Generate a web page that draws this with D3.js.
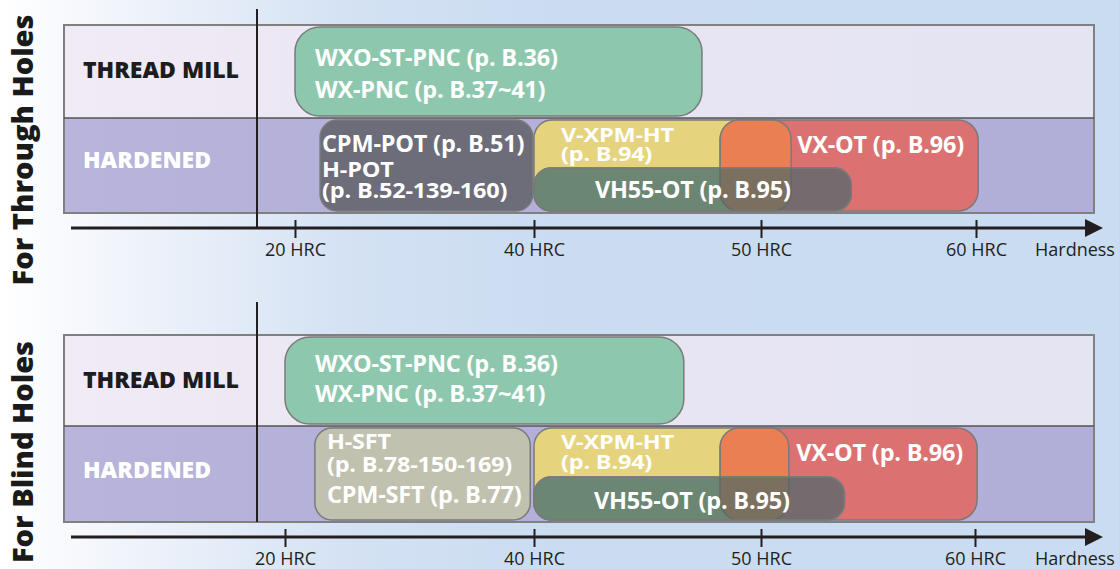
<!DOCTYPE html>
<html><head><meta charset="utf-8">
<script src="https://cdn.jsdelivr.net/npm/d3@7"></script>
<style>
html,body{margin:0;padding:0;background:#fff;}
svg{display:block;font-family:"Open Sans",sans-serif;}
</style>
</head><body>
<svg id="chart" width="1119" height="569"></svg>
<script>
// ---------------- DATA ----------------
const panelTitles = ["For Through Holes", "For Blind Holes"];
const materials = ["THREAD MILL", "HARDENED"];
const hardnessTicks = [20, 40, 50, 60];
const tickLabels = ["20 HRC", "40 HRC", "50 HRC", "60 HRC"];
const axisTitle = "Hardness";

// For Through Holes
const throughTools = ["WXO-ST-PNC", "CPM-POT", "V-XPM-HT", "VX-OT", "VH55-OT"];
const throughMaterial = ["THREAD MILL", "HARDENED", "HARDENED", "HARDENED", "HARDENED"];
const throughFrom = [20, 22.1, 40, 48.2, 40];
const throughTo = [47.4, 39.9, 51.4, 60.1, 54.2];
const throughLabels = [
  ["WXO-ST-PNC (p. B.36)", "WX-PNC (p. B.37~41)"],
  ["CPM-POT (p. B.51)", "H-POT", "(p. B.52-139-160)"],
  ["V-XPM-HT", "(p. B.94)"],
  ["VX-OT (p. B.96)"],
  ["VH55-OT (p. B.95)"]
];

// For Blind Holes
const blindTools = ["WXO-ST-PNC", "H-SFT", "V-XPM-HT", "VX-OT", "VH55-OT"];
const blindMaterial = ["THREAD MILL", "HARDENED", "HARDENED", "HARDENED", "HARDENED"];
const blindFrom = [20, 22.4, 40, 48.2, 40];
const blindTo = [46.6, 39.7, 51.3, 60.1, 53.9];
const blindLabels = [
  ["WXO-ST-PNC (p. B.36)", "WX-PNC (p. B.37~41)"],
  ["H-SFT", "(p. B.78-150-169)", "CPM-SFT (p. B.77)"],
  ["V-XPM-HT", "(p. B.94)"],
  ["VX-OT (p. B.96)"],
  ["VH55-OT (p. B.95)"]
];

// ---------------- STYLE / LAYOUT ----------------
const toolColor = {
  "WXO-ST-PNC": "#8DC8AE",
  "CPM-POT": "#6D6C79",
  "H-SFT": "#C0C1AE",
  "V-XPM-HT": "#E5D47D",
  "VX-OT": "#DC7171",
  "VH55-OT": "#6B8672"
};
const overlapColor = "#EA7F53";
const darkOverRed = "#756A6D";
const darkOverOrange = "#7B705F";
const toolRadius = {"WXO-ST-PNC": 25, "CPM-POT": 17, "H-SFT": 17, "V-XPM-HT": 18, "VX-OT": 20, "VH55-OT": 17};
const lowerLane = new Set(["VH55-OT"]);

const panels = [
  {
    title: panelTitles[0], tools: throughTools, mat: throughMaterial, from: throughFrom, to: throughTo, labels: throughLabels,
    top: 25, rows: [0, 93, 188], axisY: 203, vline: [-16, 203], range: [295, 534, 761, 976],
    titleY: 150,
    lab: {
      "WXO-ST-PNC": {dx: 20, ys: [31, 63], sy: [1, 1]},
      "CPM-POT": {dx: 2, ys: [24, 50, 71], sy: [1, 0.88, 0.88]},
      "V-XPM-HT": {dx: 27, ys: [15, 34], sy: [0.85, 0.85]},
      "VX-OT": {dx: 77, ys: [25], sy: [1]},
      "VH55-OT": {dx: 61, ys: [22], sy: [1]}
    }
  },
  {
    title: panelTitles[1], tools: blindTools, mat: blindMaterial, from: blindFrom, to: blindTo, labels: blindLabels,
    top: 335, rows: [0, 91, 187], axisY: 202, vline: [-33, 187], range: [285, 534, 761, 975],
    titleY: 452,
    lab: {
      "WXO-ST-PNC": {dx: 30, ys: [27, 57], sy: [1, 1]},
      "H-SFT": {dx: 12, ys: [14, 37, 67], sy: [0.88, 0.88, 1]},
      "V-XPM-HT": {dx: 27, ys: [14, 34], sy: [0.85, 0.85]},
      "VX-OT": {dx: 76, ys: [25], sy: [1]},
      "VH55-OT": {dx: 60, ys: [24], sy: [1]}
    }
  }
];

const W = 1119, H = 569;
const tableX0 = 64, tableX1 = 1094, divX = 257;
const axisX0 = 71, arrowTip = 1103;

const svg = d3.select("#chart");
const defs = svg.append("defs");

function lin(id, stops) {
  const g = defs.append("linearGradient").attr("id", id)
    .attr("x1", 0).attr("x2", 1).attr("y1", 0).attr("y2", 0);
  stops.forEach(s => g.append("stop").attr("offset", s[0]).attr("stop-color", s[1]));
}
lin("bg", [[0, "#FFFFFF"], [0.1, "#F2F5FB"], [0.32, "#D3E1F3"], [0.5, "#CBDCF1"], [1, "#C9DCF1"]]);
lin("rowTop", [[0, "#F1EBF5"], [0.3, "#EAE6F3"], [1, "#E4E4F2"]]);
lin("rowBot", [[0, "#B8B4DB"], [0.35, "#B3B0D9"], [1, "#B1AFD8"]]);

svg.append("rect").attr("width", W).attr("height", H).attr("fill", "url(#bg)");

panels.forEach((p, pi) => {
  const x = d3.scaleLinear().domain(hardnessTicks).range(p.range);
  const g = svg.append("g").attr("transform", `translate(0,${p.top})`);
  const y = d3.scaleOrdinal().domain(materials).range([p.rows[0], p.rows[1]]);
  const rowH = m => (m === materials[0] ? p.rows[1] - p.rows[0] : p.rows[2] - p.rows[1]);

  // title
  svg.append("text")
    .attr("transform", `translate(33,${p.titleY}) rotate(-90)`)
    .attr("text-anchor", "middle")
    .attr("font-size", 29).attr("font-weight", 800).attr("fill", "#1a1a1a")
    .text(p.title);

  // rows
  g.append("rect").attr("x", tableX0).attr("y", p.rows[0]).attr("width", tableX1 - tableX0)
    .attr("height", p.rows[1] - p.rows[0]).attr("fill", "url(#rowTop)");
  g.append("rect").attr("x", tableX0).attr("y", p.rows[1]).attr("width", tableX1 - tableX0)
    .attr("height", p.rows[2] - p.rows[1]).attr("fill", "url(#rowBot)");
  g.append("rect").attr("x", tableX0).attr("y", p.rows[0]).attr("width", tableX1 - tableX0)
    .attr("height", p.rows[2] - p.rows[0]).attr("fill", "none")
    .attr("stroke", "#808080").attr("stroke-width", 2);
  g.append("line").attr("x1", tableX0).attr("x2", tableX1).attr("y1", p.rows[1]).attr("y2", p.rows[1])
    .attr("stroke", "#555").attr("stroke-width", 1.6);

  // material labels
  g.selectAll("text.mat").data(materials).join("text").attr("class", "mat")
    .attr("x", 83)
    .attr("y", (d, i) => i === 0 ? 45 : 135)
    .attr("dy", "0.35em")
    .attr("font-size", 23).attr("font-weight", 800)
    .attr("fill", (d, i) => i === 0 ? "#1d1d1d" : "#ffffff")
    .text(d => d);

  // bars
  const bars = p.tools.map((t, i) => ({
    tool: t, mat: p.mat[i], from: p.from[i], to: p.to[i], labels: p.labels[i], i
  }));
  const barGeom = b => {
    const r0 = y(b.mat), h = rowH(b.mat);
    const top = lowerLane.has(b.tool) ? r0 + Math.round(h * 0.53) : r0 + 2;
    return {x: x(b.from), y: top, w: x(b.to) - x(b.from), h: r0 + h - 2 - top};
  };
  const order = ["WXO-ST-PNC", "CPM-POT", "H-SFT", "V-XPM-HT", "VX-OT", "OVERLAP", "VH55-OT"];
  const yel = bars.find(b => b.tool === "V-XPM-HT");
  const red = bars.find(b => b.tool === "VX-OT");
  const dark = bars.find(b => b.tool === "VH55-OT");
  const overlap = {tool: "OVERLAP", mat: red.mat, from: red.from, to: yel.to, labels: []};
  const all = bars.concat([overlap]).sort((a, b) => order.indexOf(a.tool) - order.indexOf(b.tool));
  const rx = b => b.tool === "OVERLAP" ? 19 : toolRadius[b.tool];
  const fill = b => b.tool === "OVERLAP" ? overlapColor : toolColor[b.tool];

  const setGeom = (sel) => sel.each(function (b) {
    const gm = barGeom(b);
    d3.select(this).attr("x", gm.x).attr("y", gm.y).attr("width", gm.w).attr("height", gm.h).attr("rx", rx(b));
  });

  g.selectAll("rect.bar").data(all).join("rect").attr("class", "bar")
    .call(setGeom)
    .attr("fill", fill)
    .attr("stroke", "#7A7A7A").attr("stroke-width", 1.5);

  // tinted overlaps inside the VH55-OT bar
  const cid = "clipDark" + pi;
  defs.append("clipPath").attr("id", cid).append("rect").datum(dark).call(setGeom);
  const dg = g.append("g").attr("clip-path", `url(#${cid})`);
  dg.append("rect").datum(red).call(setGeom).attr("fill", darkOverRed).attr("stroke", "#6E6E6E").attr("stroke-width", 1.2);
  dg.append("rect").datum(overlap).call(setGeom).attr("fill", darkOverOrange).attr("stroke", "#5F6A6A").attr("stroke-width", 1.5);
  g.append("rect").datum(dark).call(setGeom).attr("fill", "none").attr("stroke", "#7A7A7A").attr("stroke-width", 1.5);

  // bar labels
  bars.forEach(b => {
    const gm = barGeom(b);
    const L = p.lab[b.tool];
    b.labels.forEach((line, k) => {
      g.append("text")
        .attr("transform", `translate(${gm.x + L.dx},${gm.y + L.ys[k]}) scale(1,${L.sy[k]})`)
        .attr("dy", "0.35em")
        .attr("font-size", 23.5).attr("font-weight", 700).attr("fill", "#ffffff")
        .attr("letter-spacing", -0.2)
        .text(line);
    });
  });

  // vertical divider
  g.append("line").attr("x1", divX).attr("x2", divX).attr("y1", p.vline[0]).attr("y2", p.vline[1])
    .attr("stroke", "#231F20").attr("stroke-width", 2);

  // axis
  const ax = g.append("g").attr("transform", `translate(0,${p.axisY})`);
  ax.append("line").attr("x1", axisX0).attr("x2", arrowTip - 12).attr("y1", 0).attr("y2", 0)
    .attr("stroke", "#231F20").attr("stroke-width", 3);
  ax.append("path").attr("d", `M${arrowTip},0 L${arrowTip - 18},-9 L${arrowTip - 18},9 Z`).attr("fill", "#231F20");
  const axis = d3.axisBottom(x).tickValues(hardnessTicks).tickFormat((d, i) => tickLabels[i]).tickSize(10);
  const axG = ax.append("g").call(axis);
  axG.select(".domain").remove();
  axG.selectAll(".tick line").attr("y1", -8).attr("y2", 10).attr("stroke", "#231F20").attr("stroke-width", 2);
  axG.selectAll(".tick text").attr("y", 22).attr("dy", "0.35em")
    .attr("font-size", 18).attr("font-family", "Open Sans, sans-serif").attr("fill", "#231F20");
  ax.append("text").attr("x", 1035).attr("y", 22).attr("dy", "0.35em")
    .attr("font-size", 18).attr("fill", "#231F20").text(axisTitle);
});
</script>
</body></html>
